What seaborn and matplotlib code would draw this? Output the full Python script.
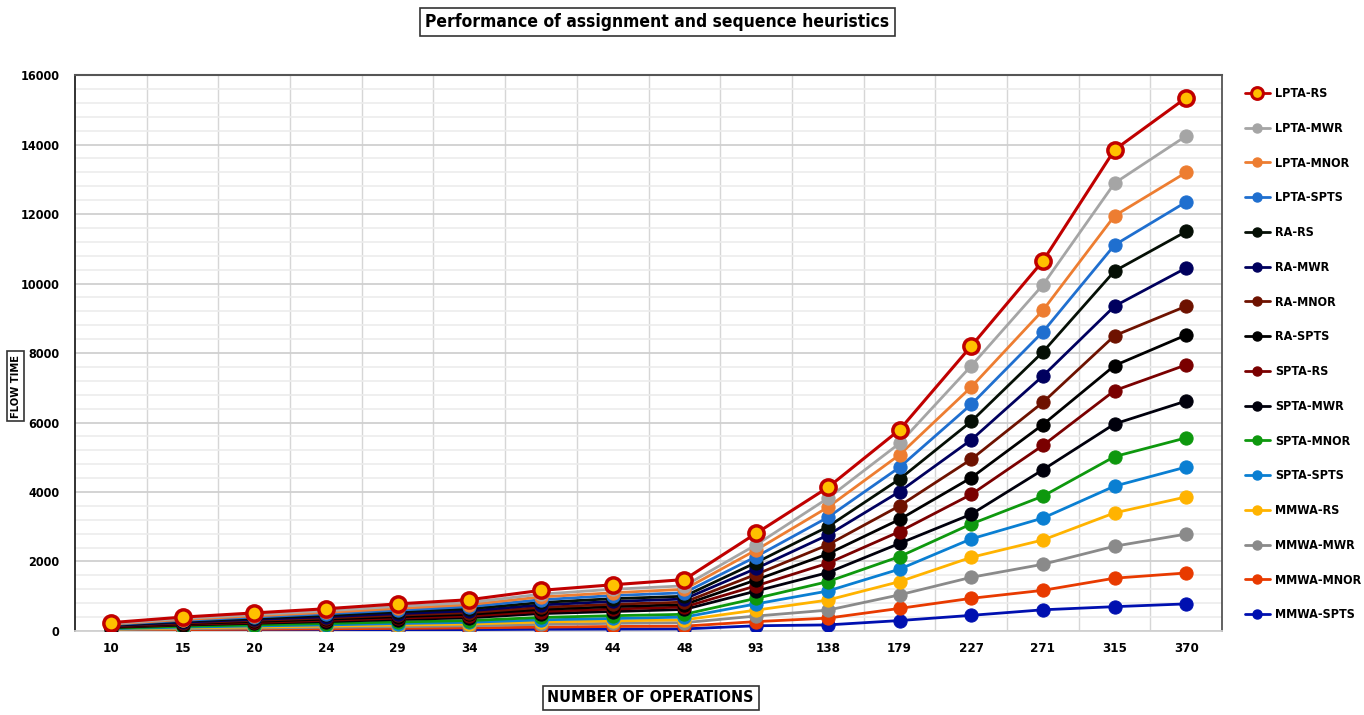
# Leistung der Zuordnungs- und Reihenfolgeheuristiken (Flusszeit je Anzahl Operationen)
import numpy as np
import pandas as pd
import seaborn as sns
import matplotlib.pyplot as plt
from matplotlib.ticker import MultipleLocator, FixedLocator
from matplotlib.lines import Line2D

# Daten
operationen = ['10', '15', '20', '24', '29', '34', '39', '44', '48',
               '93', '138', '179', '227', '271', '315', '370']

lpta_rs = [240, 400, 520, 640, 780, 900, 1170, 1330, 1480, 2810, 4130, 5790, 8200, 10650, 13850, 15350]
lpta_mwr = [215, 360, 470, 580, 710, 820, 1060, 1200, 1300, 2480, 3820, 5400, 7630, 9960, 12890, 14250]
lpta_mnor = [200, 330, 435, 535, 650, 760, 980, 1100, 1200, 2330, 3560, 5070, 7020, 9230, 11950, 13200]
lpta_spts = [185, 305, 400, 495, 600, 700, 900, 1020, 1100, 2140, 3270, 4710, 6520, 8610, 11110, 12350]
ra_rs = [170, 280, 365, 450, 550, 640, 820, 930, 1000, 1970, 3000, 4370, 6030, 8030, 10360, 11500]
ra_mwr = [155, 255, 335, 410, 500, 580, 750, 850, 920, 1800, 2760, 4010, 5500, 7340, 9350, 10450]
ra_mnor = [140, 230, 305, 375, 455, 530, 680, 770, 830, 1630, 2480, 3600, 4940, 6580, 8500, 9350]
ra_spts = [125, 210, 275, 340, 410, 480, 620, 700, 760, 1470, 2220, 3210, 4410, 5940, 7640, 8520]
spta_rs = [115, 190, 245, 305, 370, 430, 560, 630, 690, 1300, 1950, 2860, 3930, 5340, 6920, 7660]
spta_mwr = [100, 170, 220, 270, 330, 380, 500, 560, 620, 1150, 1680, 2520, 3360, 4640, 5960, 6620]
spta_mnor = [80, 135, 175, 215, 260, 300, 390, 440, 480, 940, 1420, 2140, 3080, 3880, 5020, 5560]
spta_spts = [65, 110, 145, 175, 215, 250, 320, 360, 400, 780, 1150, 1780, 2650, 3250, 4170, 4720]
mmwa_rs = [55, 90, 115, 140, 170, 200, 260, 290, 320, 600, 890, 1420, 2120, 2620, 3400, 3860]
mmwa_mwr = [40, 65, 85, 105, 125, 150, 190, 220, 240, 430, 600, 1040, 1545, 1920, 2440, 2790]
mmwa_mnor = [25, 40, 50, 60, 75, 90, 110, 130, 140, 270, 370, 650, 940, 1170, 1520, 1670]
mmwa_spts = [12, 20, 25, 30, 35, 40, 50, 55, 60, 150, 175, 300, 450, 610, 700, 780]

namen = ['LPTA-RS', 'LPTA-MWR', 'LPTA-MNOR', 'LPTA-SPTS', 'RA-RS', 'RA-MWR', 'RA-MNOR', 'RA-SPTS',
         'SPTA-RS', 'SPTA-MWR', 'SPTA-MNOR', 'SPTA-SPTS', 'MMWA-RS', 'MMWA-MWR', 'MMWA-MNOR', 'MMWA-SPTS']
werte = [lpta_rs, lpta_mwr, lpta_mnor, lpta_spts, ra_rs, ra_mwr, ra_mnor, ra_spts,
         spta_rs, spta_mwr, spta_mnor, spta_spts, mmwa_rs, mmwa_mwr, mmwa_mnor, mmwa_spts]
farben = ['#C00000', '#A5A5A5', '#ED7D31', '#1F6FCF', '#050F05', '#00005E', '#6E1200', '#000000',
          '#7A0000', '#00000C', '#0E980E', '#0A7FD2', '#FFB300', '#8A8A8A', '#E83A00', '#0010B0']

# lange Tabelle fuer seaborn
df = pd.DataFrame({
    'Operationen': operationen * len(namen),
    'Flusszeit': np.concatenate(werte),
    'Heuristik': np.repeat(namen, len(operationen)),
})

sns.set_theme(style="white")
plt.rcParams['font.family'] = ['DejaVu Sans']
plt.rcParams['font.stretch'] = 'condensed'
plt.rcParams['text.color'] = 'black'
plt.rcParams['xtick.color'] = 'black'
plt.rcParams['ytick.color'] = 'black'

fig = plt.figure(figsize=(13.64, 7.15), dpi=100)
ax = fig.add_axes([0.055, 0.1175, 0.841, 0.7775])

# in umgekehrter Reihenfolge zeichnen, damit LPTA-RS oben liegt
for i in range(len(namen) - 1, -1, -1):
    sub = df[df['Heuristik'] == namen[i]]
    if i == 0:
        sns.lineplot(data=sub, x='Operationen', y='Flusszeit', ax=ax, color=farben[i], lw=2.2,
                     marker='o', markersize=11, markerfacecolor='#FFC000', markeredgecolor=farben[i],
                     markeredgewidth=2.5, sort=False, zorder=10 + len(namen) - i)
    else:
        sns.lineplot(data=sub, x='Operationen', y='Flusszeit', ax=ax, color=farben[i], lw=2,
                     marker='o', markersize=9.5, markerfacecolor=farben[i], markeredgecolor=farben[i],
                     sort=False, zorder=10 + len(namen) - i)

ax.set_xlim(-0.5, len(operationen) - 0.5)
ax.set_ylim(0, 16000)
ax.yaxis.set_major_locator(MultipleLocator(2000))
ax.yaxis.set_minor_locator(MultipleLocator(400))
ax.xaxis.set_minor_locator(FixedLocator(np.arange(0.5, len(operationen) - 0.5, 1)))
ax.grid(which='major', axis='y', color='#D0D0D0', lw=1.3)
ax.grid(which='minor', axis='y', color='#ECECEC', lw=1.2)
ax.grid(which='minor', axis='x', color='#D6D6D6', lw=1)
ax.set_axisbelow(True)
ax.tick_params(which='both', length=0)
ax.tick_params(axis='y', pad=11)
ax.tick_params(axis='x', pad=8)
for lbl in ax.get_xticklabels():
    lbl.set_fontweight('bold')
    lbl.set_fontsize(9.5)
for lbl in ax.get_yticklabels():
    lbl.set_fontweight('bold')
    lbl.set_fontsize(9)
ax.set_xlabel('')
ax.set_ylabel('')

ax.spines['left'].set_color('#222222')
ax.spines['left'].set_linewidth(1.3)
ax.spines['top'].set_color('#555555')
ax.spines['top'].set_linewidth(1.5)
ax.spines['right'].set_color('#555555')
ax.spines['right'].set_linewidth(1.3)
ax.spines['bottom'].set_color('#D0D0D0')
ax.spines['bottom'].set_linewidth(1.3)
if ax.get_legend() is not None:
    ax.get_legend().remove()

# Legende rechts
handles = []
for i, n in enumerate(namen):
    if i == 0:
        handles.append(Line2D([], [], color=farben[i], lw=2, marker='o', markersize=8.5,
                              markerfacecolor='#FFC000', markeredgecolor=farben[i], markeredgewidth=2.2))
    else:
        handles.append(Line2D([], [], color=farben[i], lw=2, marker='o', markersize=6.5,
                              markerfacecolor=farben[i], markeredgecolor=farben[i]))
fig.legend(handles, namen, loc='upper left', bbox_to_anchor=(0.909, 0.885), frameon=False,
           prop={'weight': 'bold', 'size': 9, 'stretch': 'condensed'}, labelspacing=1.74,
           handlelength=2.0, handletextpad=0.4, borderaxespad=0)

# Titel und Achsenbeschriftungen in Kaesten
kasten = dict(boxstyle='square,pad=0.3', facecolor='white', edgecolor='#333333', lw=1.2)
fig.text(0.482, 0.969, 'Performance of assignment and sequence heuristics', ha='center', va='center',
         fontsize=12.5, fontweight='bold', bbox=kasten)
fig.text(0.477, 0.024, 'NUMBER OF OPERATIONS', ha='center', va='center',
         fontsize=11.5, fontweight='bold', bbox=kasten)
fig.text(0.0115, 0.46, 'FLOW TIME', ha='center', va='center', rotation=90,
         fontsize=8, fontweight='bold', bbox=dict(boxstyle='square,pad=0.3', facecolor='white',
                                                   edgecolor='#333333', lw=1.2))

fig.savefig('out.png', dpi=100)
